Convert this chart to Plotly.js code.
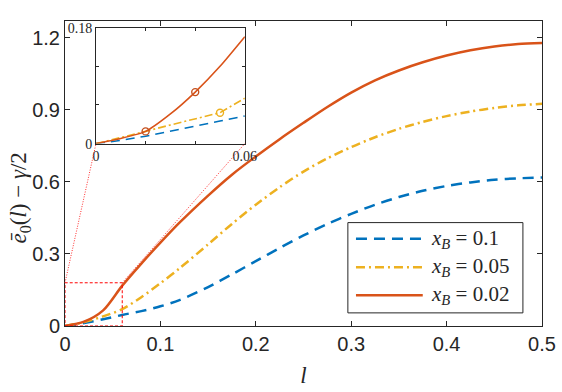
<!DOCTYPE html>
<html>
<head>
<meta charset="utf-8">
<script src="https://cdn.plot.ly/plotly-3.0.1.min.js"></script>
<style>
  html, body { margin: 0; padding: 0; background: #fff; }
  #chart { width: 562px; height: 392px; }
</style>
</head>
<body>
<div id="chart"></div>
<script>
// main curves
const l = [0, 0.02, 0.04, 0.06, 0.08, 0.1, 0.12, 0.15, 0.175, 0.2, 0.225, 0.25, 0.275, 0.3,
           0.325, 0.35, 0.375, 0.4, 0.425, 0.45, 0.475, 0.5];
const eB10 = [0, 0.012, 0.028, 0.046, 0.062, 0.082, 0.108, 0.162, 0.215, 0.27, 0.325, 0.377, 0.425, 0.467,
              0.505, 0.537, 0.563, 0.583, 0.598, 0.609, 0.615, 0.618];
const eB05 = [0, 0.016, 0.04, 0.07, 0.12, 0.178, 0.24, 0.34, 0.425, 0.505, 0.578, 0.643, 0.698, 0.745,
              0.786, 0.821, 0.85, 0.874, 0.893, 0.908, 0.919, 0.925];
const eB02 = [0, 0.018, 0.065, 0.168, 0.26, 0.347, 0.43, 0.543, 0.63, 0.706, 0.778, 0.846, 0.912, 0.972,
              1.023, 1.064, 1.098, 1.126, 1.148, 1.164, 1.174, 1.178];

// inset (zoom on 0..0.06)
const li = [0, 0.01, 0.02, 0.03, 0.04, 0.05, 0.06];
const iB10 = [0, 0.005, 0.0115, 0.019, 0.027, 0.035, 0.043];
const iB05 = [0, 0.009, 0.019, 0.029, 0.038, 0.048, 0.0706];
const iB02 = [0, 0.008, 0.019, 0.046, 0.080, 0.12, 0.166];
const markL02 = [0.02, 0.04];
const markV02 = [0.019, 0.080];
const markL05 = [0.05];
const markV05 = [0.048];

const legendNames = ['0.1', '0.05', '0.02'];
const xTicks = [0, 0.1, 0.2, 0.3, 0.4, 0.5];
const yTicks = [0, 0.3, 0.6, 0.9, 1.2];

const BLUE = '#0072BD', YELLOW = '#EDB120', ORANGE = '#D95319';
const DASH = '11px,7px', DASHDOT = '9px,4px,2px,4px';
const XMAX = 0.5, YMAX = 1.27;
const INSET_X = [0.065, 0.377], INSET_Y = [0.598, 0.978];

const traces = [
    { x: l, y: eB10, mode: 'lines', line: { color: BLUE, width: 2.5, dash: DASH, shape: 'spline', smoothing: 0.8 }, showlegend: false },
    { x: l, y: eB05, mode: 'lines', line: { color: YELLOW, width: 2.5, dash: DASHDOT, shape: 'spline', smoothing: 0.8 }, showlegend: false },
    { x: l, y: eB02, mode: 'lines', line: { color: ORANGE, width: 2.5, shape: 'spline', smoothing: 0.8 }, showlegend: false },

    { x: li, y: iB10, xaxis: 'x2', yaxis: 'y2', mode: 'lines', line: { color: BLUE, width: 1.6, dash: '9px,6px' }, showlegend: false },
    { x: li, y: iB05, xaxis: 'x2', yaxis: 'y2', mode: 'lines', line: { color: YELLOW, width: 1.6, dash: '8px,3px,2px,3px' }, showlegend: false },
    { x: li, y: iB02, xaxis: 'x2', yaxis: 'y2', mode: 'lines', line: { color: ORANGE, width: 1.6, shape: 'spline', smoothing: 0.6 }, showlegend: false },
    { x: markL02, y: markV02, xaxis: 'x2', yaxis: 'y2', mode: 'markers',
      marker: { symbol: 'circle-open', size: 7, color: '#C4501E', line: { width: 1.4 } }, showlegend: false },
    { x: markL05, y: markV05, xaxis: 'x2', yaxis: 'y2', mode: 'markers',
      marker: { symbol: 'circle-open', size: 7, color: YELLOW, line: { width: 1.4 } }, showlegend: false }
];

// zoom box and connectors
const shapes = [
    { type: 'rect', xref: 'x', yref: 'y', x0: 0, x1: 0.06, y0: 0, y1: 0.18,
      line: { color: '#ff0000', width: 1, dash: '3px,2px' }, layer: 'above' },
    { type: 'line', xref: 'paper', yref: 'paper', x0: 0, y0: 0.18 / YMAX, x1: INSET_X[0], y1: INSET_Y[0],
      line: { color: '#ff3030', width: 1, dash: '1px,1.5px' } },
    { type: 'line', xref: 'paper', yref: 'paper', x0: 0.06 / XMAX, y0: 0.18 / YMAX, x1: INSET_X[1], y1: INSET_Y[0],
      line: { color: '#ff3030', width: 1, dash: '1px,1.5px' } },
    // legend box
    { type: 'rect', xref: 'paper', yref: 'paper', x0: 0.593, x1: 0.960, y0: 0.043, y1: 0.339,
      line: { color: '#262626', width: 1 }, fillcolor: '#ffffff', layer: 'above' }
];

const annotations = [
    { xref: 'paper', yref: 'paper', x: -0.095, y: 0.42, xanchor: 'center', yanchor: 'middle',
      textangle: -90, showarrow: false,
      text: '<i>ē</i><sub>0</sub>(<i>l</i>) − <i>γ</i>/2',
      font: { family: 'Liberation Serif', size: 23, color: '#262626' } }
];

const legendRows = [0.286, 0.193, 0.101];
const legendStyles = [
    { color: BLUE, dash: DASH },
    { color: YELLOW, dash: DASHDOT },
    { color: ORANGE, dash: 'solid' }
];
legendNames.forEach(function(name, i) {
    shapes.push({ type: 'line', xref: 'paper', yref: 'paper', x0: 0.610, x1: 0.750,
        y0: legendRows[i], y1: legendRows[i], layer: 'above',
        line: { color: legendStyles[i].color, width: 2.5, dash: legendStyles[i].dash } });
    annotations.push({ xref: 'paper', yref: 'paper', x: 0.764, y: legendRows[i],
        xanchor: 'left', yanchor: 'middle', showarrow: false,
        text: '<i>x</i><sub><i>B</i></sub> = ' + name,
        font: { family: 'Liberation Serif', size: 21, color: '#262626' } });
});

const axisLine = { showline: true, linecolor: '#262626', linewidth: 1, mirror: 'ticks',
    ticks: 'inside', tickcolor: '#262626', showgrid: false, zeroline: false };

const layout = {
    width: 562, height: 392,
    margin: { l: 65, r: 20, t: 21, b: 66 },
    paper_bgcolor: '#ffffff', plot_bgcolor: '#ffffff',
    font: { family: 'Liberation Sans, Arial', color: '#262626' },
    xaxis: Object.assign({}, axisLine, {
        range: [0, XMAX], tickvals: xTicks, ticklen: 5,
        tickfont: { size: 20 },
        title: { text: '<i>l</i>', font: { family: 'Liberation Serif', size: 23 }, standoff: 12 }
    }),
    yaxis: Object.assign({}, axisLine, {
        range: [0, YMAX], tickvals: yTicks, ticklen: 5,
        tickfont: { size: 20 }
    }),
    xaxis2: Object.assign({}, axisLine, {
        domain: INSET_X, anchor: 'y2', range: [0, 0.06],
        tickvals: [0, 0.06], ticktext: ['0', '0.06'], ticklen: 3,
        minor: { tickvals: [0.02, 0.04], ticks: 'inside', ticklen: 3, tickcolor: '#262626' },
        tickfont: { family: 'Liberation Serif', size: 14 }
    }),
    yaxis2: Object.assign({}, axisLine, {
        domain: INSET_Y, anchor: 'x2', range: [0, 0.18],
        tickvals: [0, 0.18], ticktext: ['0', '0.18'], ticklen: 3,
        minor: { tickvals: [0.06, 0.12], ticks: 'inside', ticklen: 3, tickcolor: '#262626' },
        tickfont: { family: 'Liberation Serif', size: 14 }
    }),
    shapes: shapes,
    annotations: annotations,
    showlegend: false
};

Plotly.newPlot('chart', traces, layout, { displayModeBar: false, staticPlot: true });
</script>
</body>
</html>
